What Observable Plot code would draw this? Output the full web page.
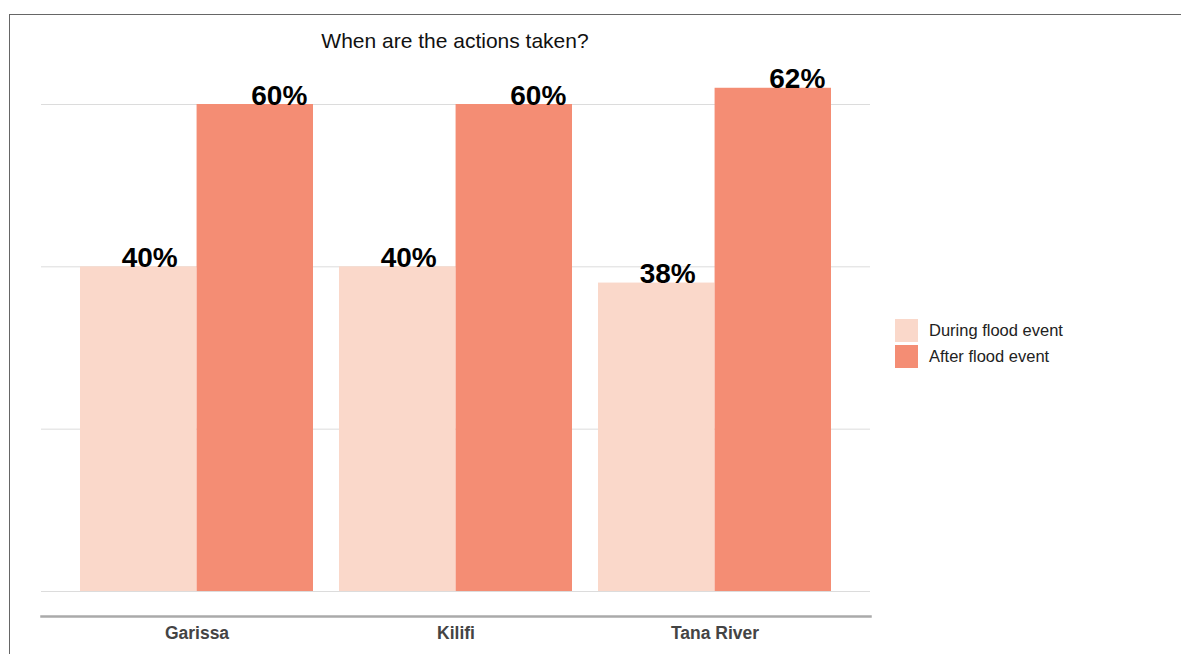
<!DOCTYPE html>
<html>
<head>
<meta charset="utf-8">
<script src="https://cdn.jsdelivr.net/npm/d3@7"></script>
<script src="https://cdn.jsdelivr.net/npm/@observablehq/plot@0.6"></script>
<style>
  html, body { margin: 0; padding: 0; background: #fff; }
  body { width: 1181px; height: 654px; overflow: hidden; position: relative; font-family: "Liberation Sans", Arial, sans-serif; }
  #border { position: absolute; left: 9px; top: 14px; right: -20px; bottom: -20px; border-left: 1.5px solid #666; border-top: 1.5px solid #666; pointer-events: none; }
  #title { height: 64px; position: relative; }
  #title span { position: absolute; left: 455px; top: 29px; transform: translateX(-50%); font-size: 21px; line-height: 24px; color: #111; white-space: nowrap; }
  #chart { position: absolute; left: 0; top: 64px; }
  #legend { position: absolute; left: 895px; top: 319px; font-size: 16.5px; color: #222; }
  .item { display: flex; align-items: center; height: 23px; margin-bottom: 3px; }
  .sw { width: 23px; height: 23px; margin-right: 11px; }
</style>
</head>
<body>
<div id="border"></div>
<div id="title"><span>When are the actions taken?</span></div>
<div id="chart"></div>
<div id="legend"></div>
<script>
const districts = ["Garissa", "Kilifi", "Tana River"];
const duringValues = [0.40, 0.40, 0.38];
const afterValues = [0.60, 0.60, 0.62];
const seriesNames = ["During flood event", "After flood event"];
const seriesColors = ["#fad8ca", "#f48d74"];
const yTicks = [0, 0.2, 0.4, 0.6];

const rows = [];
districts.forEach((d, i) => {
  rows.push({district: d, series: seriesNames[0], value: duringValues[i]});
  rows.push({district: d, series: seriesNames[1], value: afterValues[i]});
});
const during = rows.filter(r => r.series === seriesNames[0]);
const after = rows.filter(r => r.series === seriesNames[1]);

const width = 1181, height = 590;
const marginLeft = 41, marginRight = 311;
const padIn = 0.1, padOut = 0.15;
const step = (width - marginLeft - marginRight) / (districts.length - padIn + 2 * padOut);
const half = step * (1 - padIn) / 2;

const plot = Plot.plot({
  width, height,
  marginLeft, marginRight,
  marginTop: 40, marginBottom: 38,
  style: {fontFamily: "'Liberation Sans', Arial, sans-serif", background: "transparent", overflow: "visible"},
  x: {domain: districts, paddingInner: padIn, paddingOuter: padOut, label: null},
  y: {domain: [0, 0.6], insetBottom: 25, axis: null},
  color: {domain: seriesNames, range: seriesColors},
  marks: [
    Plot.ruleY(yTicks, {stroke: "#dcdcdc", strokeWidth: 1}),
    Plot.barY(during, {x: "district", y: "value", fill: "series", insetLeft: 0, insetRight: half}),
    Plot.barY(after, {x: "district", y: "value", fill: "series", insetLeft: half, insetRight: 0}),
    Plot.text(during, {x: "district", y: "value", text: d => Math.round(d.value * 100) + "%", dx: -half / 2 + 11, lineAnchor: "bottom", fontSize: 28, fontWeight: "bold", fill: "#000"}),
    Plot.text(after, {x: "district", y: "value", text: d => Math.round(d.value * 100) + "%", dx: half / 2 + 24, lineAnchor: "bottom", fontSize: 28, fontWeight: "bold", fill: "#000"}),
    Plot.frame({anchor: "bottom", stroke: "#aaa", strokeWidth: 2.5}),
    Plot.axisX({tickSize: 0, tickPadding: 10.5, fontSize: 17.5, fontWeight: "bold", fill: "#444", label: null})
  ]
});
document.getElementById("chart").appendChild(plot);

const legend = document.getElementById("legend");
seriesNames.forEach((name, i) => {
  const item = document.createElement("div");
  item.className = "item";
  const sw = document.createElement("div");
  sw.className = "sw";
  sw.style.background = seriesColors[i];
  const label = document.createElement("span");
  label.textContent = name;
  item.appendChild(sw);
  item.appendChild(label);
  legend.appendChild(item);
});
</script>
</body>
</html>
